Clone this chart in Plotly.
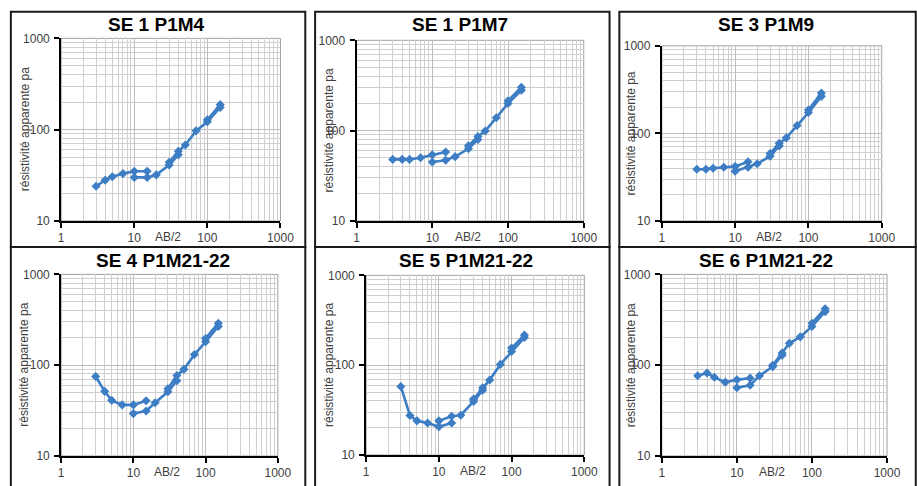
import plotly.graph_objects as go

# ---------------- data ----------------
ab2 = [3, 4, 5, 7, 10, 15, None, 10, 15, 20, 30, 40, None,
       30, 40, 50, 70, 100, 150, None, 100, 150]

rho_se1_p1m4 = [24, 28, 30.5, 33, 35, 35, None, 30, 30, 32, 41, 53, None,
                44, 58, 68, 97, 122, 175, None, 128, 188]
rho_se1_p1m7 = [48, 48, 48, 50, 54, 58, None, 45, 47, 51.5, 63, 80, None,
                68, 86, 99, 139, 200, 280, None, 214, 302]
rho_se3_p1m9 = [39, 39, 40, 41, 42, 47.5, None, 37, 41, 45, 55, 72, None,
                59, 77, 89, 123, 173, 265, None, 185, 289]
rho_se4_p1m21 = [75, 51.5, 41, 36.5, 36.5, 40.5, None, 29.3, 31.3, 38.5, 51, 67.5, None,
                 55, 77, 90, 131, 181, 267, None, 197, 290]
rho_se5_p1m21 = [58, 27.5, 24, 22.7, 20.6, 22.7, None, 24, 27, 27.7, 39.4, 52.5, None,
                 42, 56, 68.5, 102, 142, 203, None, 155, 217]
rho_se6_p1m21 = [76.6, 82, 73.5, 65, 69, 72, None, 56.5, 60, 76.6, 96.4, 128.5, None,
                 99.5, 136, 174, 205, 267, 389, None, 290, 419]

titles = ["SE 1 P1M4", "SE 1 P1M7", "SE 3 P1M9",
          "SE 4 P1M21-22", "SE 5 P1M21-22", "SE 6 P1M21-22"]
series = [rho_se1_p1m4, rho_se1_p1m7, rho_se3_p1m9,
          rho_se4_p1m21, rho_se5_p1m21, rho_se6_p1m21]

x_tickvals = [1, 10, 100, 1000]
x_ticktext = ["1", "10", "100", "1000"]
y_tickvals = [10, 100, 1000]
y_ticktext = ["10", "100", "1000"]
y_title = "résistivité apparente pa"
x_title = "AB/2"

# ---------------- layout geometry (pixels) ----------------
W, H = 917, 486
plot_boxes = [  # x0, x1, y0(top), y1(bottom)
    (59.3, 282.7, 32.3, 220.3),
    (360.3, 591.7, 34.3, 220.3),
    (671.3, 895.3, 40.0, 220.3),
    (59.3, 280.0, 275.3, 462.3),
    (370.0, 592.3, 276.3, 461.3),
    (671.3, 900.7, 275.3, 462.3),
]
panel_boxes = [  # x0, x1, y0, y1
    (8, 308, 5, 247), (318, 618, 5, 247), (628, 930, 5, 247),
    (8, 308, 247, 500), (318, 618, 247, 500), (628, 930, 247, 500),
]
title_pos = [(156, 18), (466, 18), (777, 18), (163, 261), (472, 261), (777, 261)]
ytitle_x = [22, 332, 640, 22, 332, 640]

FONT = "Liberation Sans, Arial, sans-serif"
BLUE = "#3c7dc4"

fig = go.Figure()
layout = dict(
    width=W, height=H, margin=dict(l=0, r=0, t=0, b=0),
    paper_bgcolor="white", plot_bgcolor="white", showlegend=False,
)
shapes = []
annotations = []

for i in range(6):
    n = "" if i == 0 else str(i + 1)
    x0, x1, y0, y1 = plot_boxes[i]
    fig.add_trace(go.Scatter(
        x=ab2, y=series[i], xaxis="x" + n, yaxis="y" + n,
        mode="lines+markers", connectgaps=False,
        line=dict(color=BLUE, width=2.6),
        marker=dict(symbol="diamond", size=7, color=BLUE),
        hoverinfo="x+y",
    ))
    common = dict(
        type="log", showline=True, linecolor="black", linewidth=2,
        ticks="outside", ticklen=5, tickwidth=2, tickcolor="black",
        tickfont=dict(family=FONT, size=12, color="#404040"),
        showgrid=True, gridcolor="#bdbdbd", gridwidth=1, zeroline=False,
        minor=dict(dtick="D1", showgrid=True, gridcolor="#cfcfcf", gridwidth=1, ticks=""),
        fixedrange=True,
    )
    layout["xaxis" + n] = dict(
        common, range=[0, 3], domain=[x0 / W, x1 / W], anchor="y" + n,
        tickmode="array", tickvals=x_tickvals, ticktext=x_ticktext,
    )
    layout["yaxis" + n] = dict(
        common, range=[1, 3], domain=[1 - y1 / H, 1 - y0 / H], anchor="x" + n,
        tickmode="array", tickvals=y_tickvals, ticktext=y_ticktext,
        ticklabelstandoff=2,
    )
    # plot-area border (grey top/right)
    shapes.append(dict(type="rect", xref="x" + n + " domain", yref="y" + n + " domain",
                       x0=0, x1=1, y0=0, y1=1, line=dict(color="#a0a0a0", width=1),
                       layer="below"))
    # panel frame
    px0, px1, py0, py1 = panel_boxes[i]
    shapes.append(dict(type="rect", xref="paper", yref="paper",
                       x0=px0 / W, x1=px1 / W, y0=1 - py1 / H, y1=1 - py0 / H,
                       line=dict(color="#1a1a1a", width=2)))
    # title
    tx, ty = title_pos[i]
    annotations.append(dict(text=titles[i], xref="paper", yref="paper",
                            x=tx / W, y=1 - ty / H, showarrow=False,
                            xanchor="center", yanchor="middle",
                            font=dict(family=FONT, size=19, color="black", weight="bold")))
    # y axis title
    annotations.append(dict(text=y_title, xref="paper", yref="y" + n + " domain",
                            x=ytitle_x[i] / W, y=0.5, textangle=-90, showarrow=False,
                            xanchor="center", yanchor="middle",
                            font=dict(family=FONT, size=12, color="#404040")))
    # x axis label AB/2
    annotations.append(dict(text=x_title, xref="x" + n, yref="y" + n + " domain",
                            x=1.466, y=0, yshift=-16, showarrow=False,
                            xanchor="center", yanchor="middle",
                            font=dict(family=FONT, size=12, color="#404040")))

# dark reference line at 100 on the second chart
shapes.append(dict(type="line", xref="x2 domain", yref="y2", x0=0, x1=1, y0=2, y1=2,
                   line=dict(color="black", width=1.2)))

layout["shapes"] = shapes
layout["annotations"] = annotations
fig.update_layout(**layout)
fig.write_html("out.html")
